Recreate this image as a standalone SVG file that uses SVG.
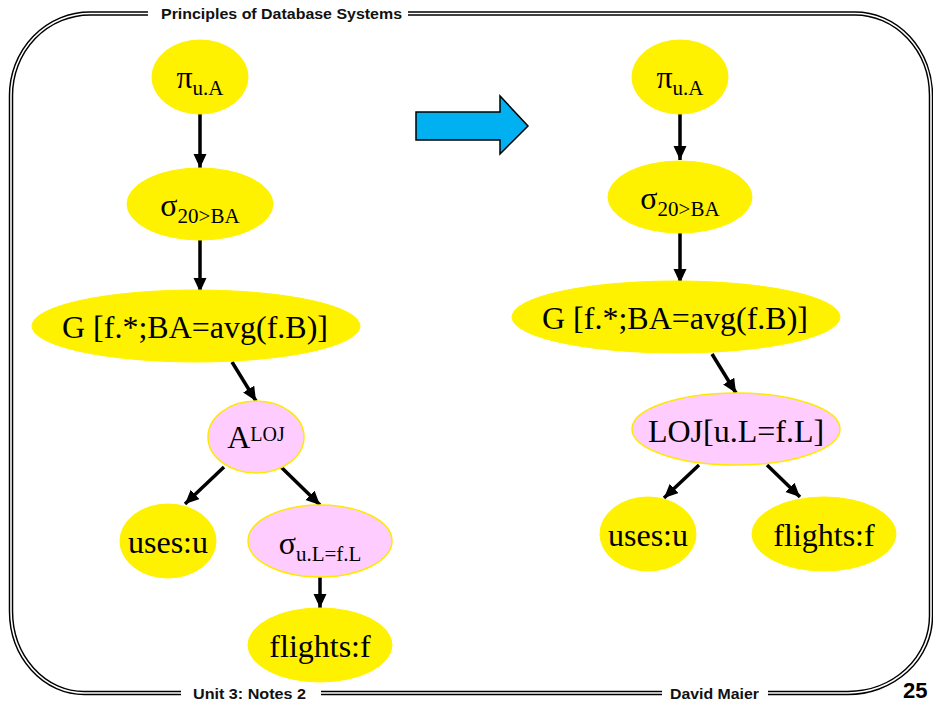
<svg xmlns="http://www.w3.org/2000/svg" width="933" height="704" viewBox="0 0 933 704">
<defs>
<marker id="ah" markerUnits="userSpaceOnUse" markerWidth="16" markerHeight="16" refX="14" refY="6.5" orient="auto">
<path d="M0,0 L14,6.5 L0,13 Z" fill="#000"/>
</marker>
<style>
.frameO{fill:none;stroke:#000;stroke-width:4.5}
.frameI{fill:none;stroke:#fff;stroke-width:1.6}
.hdr{font-family:"Liberation Sans",Arial,sans-serif;font-weight:bold;font-size:15px;fill:#111}
.y{fill:#FFF200;stroke:#FFF200;stroke-width:1}
.p{fill:#FFCCFF;stroke:#FFE800;stroke-width:1.5}
.t{font-family:"Liberation Serif","Times New Roman",serif;font-size:32px;fill:#000;text-anchor:middle}
.sub{font-size:21px}
.c{stroke:#000;stroke-width:3.5;fill:none;marker-end:url(#ah)}
</style>
</defs>
<rect width="933" height="704" fill="#fff"/>
<g id="frame">
<path d="M148,13.5 L90,13.5 A79,82 0 0 0 11,95.5 L11,611 A73,82 0 0 0 84,693 L181,693" class="frameO"/>
<path d="M148,13.5 L90,13.5 A79,82 0 0 0 11,95.5 L11,611 A73,82 0 0 0 84,693 L181,693" class="frameI"/>
<path d="M321,693 L662,693" class="frameO"/>
<path d="M321,693 L662,693" class="frameI"/>
<path d="M768,693 L848,693 A83,77 0 0 0 931,616 L931,95.5 A76,82 0 0 0 855,13.5 L408,13.5" class="frameO"/>
<path d="M768,693 L848,693 A83,77 0 0 0 931,616 L931,95.5 A76,82 0 0 0 855,13.5 L408,13.5" class="frameI"/>
<text class="hdr" x="161" y="19" textLength="241" lengthAdjust="spacingAndGlyphs">Principles of Database Systems</text>
<text class="hdr" x="193" y="699" textLength="113" lengthAdjust="spacingAndGlyphs">Unit 3: Notes 2</text>
<text class="hdr" x="670" y="699" textLength="89" lengthAdjust="spacingAndGlyphs">David Maier</text>
<text x="903" y="698" style="font-family:'Liberation Sans',Arial,sans-serif;font-weight:bold;font-size:22px;fill:#000">25</text>
</g>
<g id="transform-arrow">
<polygon points="416,112 500,112 500,96 528,126 500,154 500,140 416,140" fill="#00B0F0" stroke="#000" stroke-width="1.5"/>
</g>
<g id="connectors">
<line class="c" x1="200" y1="113" x2="200" y2="168"/>
<line class="c" x1="200" y1="240" x2="200" y2="292"/>
<line class="c" x1="232" y1="362" x2="256" y2="401"/>
<line class="c" x1="224" y1="467" x2="185" y2="504"/>
<line class="c" x1="281" y1="467" x2="320" y2="505"/>
<line class="c" x1="320" y1="577" x2="320" y2="608"/>
<line class="c" x1="680" y1="113" x2="680" y2="160"/>
<line class="c" x1="680" y1="233" x2="680" y2="283"/>
<line class="c" x1="712" y1="354" x2="736" y2="393"/>
<line class="c" x1="699" y1="465" x2="664" y2="498"/>
<line class="c" x1="767" y1="465" x2="800" y2="497"/>
</g>
<g id="L-pi">
<ellipse class="y" cx="200" cy="77" rx="48" ry="37"/>
<text class="t" x="200" y="88">π<tspan class="sub" dy="7">u.A</tspan></text>
</g>
<g id="L-sigma">
<ellipse class="y" cx="200" cy="204" rx="73" ry="36"/>
<text class="t" x="200" y="216">σ<tspan class="sub" dy="7">20&gt;BA</tspan></text>
</g>
<g id="L-group">
<ellipse class="y" cx="196" cy="326" rx="164" ry="36"/>
<text class="t" x="195" y="338">G [f.*;BA=avg(f.B)]</text>
</g>
<g id="L-loj">
<ellipse class="p" cx="256" cy="437" rx="48" ry="36"/>
<text class="t" x="256" y="448">A<tspan style="font-size:20px" dy="-7">LOJ</tspan></text>
</g>
<g id="L-uses">
<ellipse class="y" cx="168" cy="541" rx="48" ry="37"/>
<text class="t" x="168" y="553">uses:u</text>
</g>
<g id="L-sigma2">
<ellipse class="p" cx="320" cy="541" rx="72" ry="36"/>
<text class="t" x="320" y="554">σ<tspan class="sub" dy="7">u.L=f.L</tspan></text>
</g>
<g id="L-flights">
<ellipse class="y" cx="320" cy="645" rx="72" ry="37"/>
<text class="t" x="320" y="657">flights:f</text>
</g>
<g id="R-pi">
<ellipse class="y" cx="680" cy="77" rx="48" ry="37"/>
<text class="t" x="680" y="88">π<tspan class="sub" dy="7">u.A</tspan></text>
</g>
<g id="R-sigma">
<ellipse class="y" cx="680" cy="197" rx="72" ry="36"/>
<text class="t" x="680" y="209">σ<tspan class="sub" dy="7">20&gt;BA</tspan></text>
</g>
<g id="R-group">
<ellipse class="y" cx="676" cy="317" rx="164" ry="36"/>
<text class="t" x="675" y="329">G [f.*;BA=avg(f.B)]</text>
</g>
<g id="R-loj">
<ellipse class="p" cx="736" cy="429" rx="104" ry="36"/>
<text class="t" x="736" y="442">LOJ[u.L=f.L]</text>
</g>
<g id="R-uses">
<ellipse class="y" cx="648" cy="534" rx="48" ry="37"/>
<text class="t" x="648" y="546">uses:u</text>
</g>
<g id="R-flights">
<ellipse class="y" cx="824" cy="534" rx="72" ry="37"/>
<text class="t" x="824" y="546">flights:f</text>
</g>
</svg>
